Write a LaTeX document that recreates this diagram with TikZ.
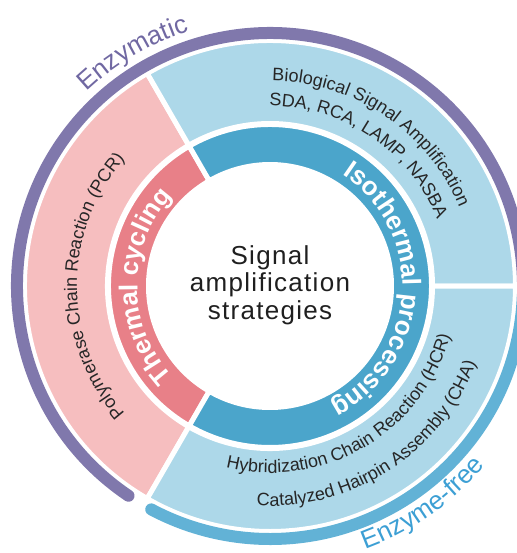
\documentclass[tikz,border=0pt]{standalone}
\usepackage{fontspec}
\setmainfont{Liberation Sans}
\newfontfamily\spacedsans[LetterSpace=5]{Liberation Sans}
\usetikzlibrary{decorations.text}

\definecolor{pinklight}{HTML}{F6BEBF}
\definecolor{pinkdark}{HTML}{E88088}
\definecolor{bluelight}{HTML}{ADD8E9}
\definecolor{bluedark}{HTML}{4BA5CB}
\definecolor{enzpurple}{HTML}{8078AC}
\definecolor{enztext}{HTML}{7068A2}
\definecolor{freeblue}{HTML}{62B2D6}
\definecolor{freetext}{HTML}{3C9FD4}

\newcommand\ringlabelfont{\bfseries\fontsize{13}{13}\selectfont}
\newcommand\methodfont{\fontsize{9}{9}\selectfont}
\newcommand\classfont{\fontsize{13}{13}\selectfont}

\tikzset{
  sector/.style={draw=white, line width=2.5pt},
  band/.style={line width=6pt, line cap=round},
}

\begin{document}
\begin{tikzpicture}[x=0.5pt, y=0.5pt]
    \useasboundingbox (-270,-267) rectangle (246,286);
    % inner ring
    \draw[sector, fill=pinkdark] (120:121.5) arc[start angle=120, end angle=240, radius=121.5]
        -- (240:161.5) arc[start angle=240, end angle=120, radius=161.5] -- cycle;
    \draw[sector, fill=bluedark] (-120:121.5) arc[start angle=-120, end angle=120, radius=121.5]
        -- (120:161.5) arc[start angle=120, end angle=-120, radius=161.5] -- cycle;
    % outer ring
    \draw[sector, fill=pinklight] (120:162.5) arc[start angle=120, end angle=240, radius=162.5]
        -- (240:245.5) arc[start angle=240, end angle=120, radius=245.5] -- cycle;
    \draw[sector, fill=bluelight] (0:162.5) arc[start angle=0, end angle=120, radius=162.5]
        -- (120:245.5) arc[start angle=120, end angle=0, radius=245.5] -- cycle;
    \draw[sector, fill=bluelight] (-120:162.5) arc[start angle=-120, end angle=0, radius=162.5]
        -- (0:245.5) arc[start angle=0, end angle=-120, radius=245.5] -- cycle;
    % enzymatic / enzyme-free bands
    \draw[band, enzpurple] (236:253) arc[start angle=236, end angle=1, radius=253];
    \draw[band, freeblue] (-2:253) arc[start angle=-2, end angle=-118, radius=253];
    % centre
    \node[align=center, font=\spacedsans\fontsize{13}{13.75}\selectfont, text=black!88] (centre) at (0,1)
        {Signal\\amplification\\strategies};
    % inner ring labels
    \path[decorate, decoration={text along path, text align=center, text color=white,
        text={|\ringlabelfont|Thermal cycling}}]
        (240:132.5) arc[start angle=240, end angle=120, radius=132.5];
    \path[decorate, decoration={text along path, text align=center, text color=white,
        text={|\ringlabelfont|Isothermal processing}}]
        (57:132.5) arc[start angle=57, end angle=-63, radius=132.5];
    % outer ring labels
    \path[decorate, decoration={text along path, text align=center, text color=black!85,
        text={|\methodfont|Polymerase Chain Reaction (PCR)}}]
        (240:193) arc[start angle=240, end angle=120, radius=193];
    \path[decorate, decoration={text along path, text align=center, text color=black!85,
        text={|\methodfont|Biological Signal Amplification}}]
        (116:205) arc[start angle=116, end angle=-4, radius=205];
    \path[decorate, decoration={text along path, text align=center, text color=black!85,
        text={|\methodfont|SDA, RCA, LAMP, NASBA}}]
        (116:180) arc[start angle=116, end angle=-4, radius=180];
    \path[decorate, decoration={text along path, text align=center, text color=black!85,
        text={|\methodfont|Hybridization Chain Reaction (HCR)}}]
        (240.5:187) arc[start angle=240.5, end angle=360.5, radius=187];
    \path[decorate, decoration={text along path, text align=center, text color=black!85,
        text={|\methodfont|Catalyzed Hairpin Assembly (CHA)}}]
        (243:220) arc[start angle=243, end angle=363, radius=220];
    % band labels
    \path[decorate, decoration={text along path, text align=center, text color=enztext,
        text={|\classfont|Enzymatic}}]
        (150.5:267) arc[start angle=150.5, end angle=90.5, radius=267];
    \path[decorate, decoration={text along path, text align=center, text color=freetext,
        text={|\classfont|Enzyme-free}}]
        (275:280) arc[start angle=275, end angle=335, radius=280];
\end{tikzpicture}
\end{document}
